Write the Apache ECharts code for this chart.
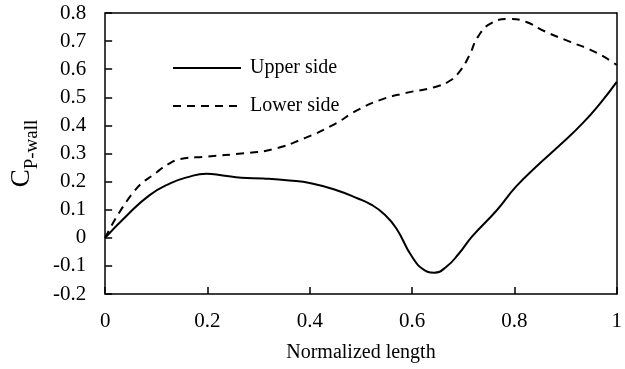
<!DOCTYPE html>
<html>
<head>
<meta charset="utf-8">
<script src="https://cdn.jsdelivr.net/npm/echarts@6/dist/echarts.min.js"></script>
<style>
  html, body { margin: 0; padding: 0; background: #fff; }
  #main { width: 625px; height: 369px; }
</style>
</head>
<body>
<div id="main"></div>
<script>
// 数据：归一化长度 / 壁面压力系数
var upperX = [0, 0.04, 0.087, 0.127, 0.16, 0.198, 0.23, 0.266, 0.309, 0.36, 0.402, 0.451, 0.494, 0.52, 0.545, 0.569, 0.599, 0.624, 0.643, 0.667, 0.692, 0.717, 0.766, 0.803, 0.846, 0.889, 0.933, 0.97, 1.0];
var upperY = [0, 0.075, 0.152, 0.194, 0.215, 0.228, 0.222, 0.214, 0.211, 0.204, 0.194, 0.17, 0.14, 0.118, 0.085, 0.034, -0.065, -0.115, -0.124, -0.103, -0.055, 0.004, 0.099, 0.182, 0.259, 0.33, 0.407, 0.484, 0.555];

var lowerX = [0, 0.056, 0.102, 0.127, 0.146, 0.198, 0.272, 0.328, 0.389, 0.445, 0.494, 0.537, 0.587, 0.643, 0.673, 0.692, 0.711, 0.729, 0.754, 0.791, 0.822, 0.859, 0.908, 0.957, 1.0];
var lowerY = [0, 0.164, 0.235, 0.266, 0.28, 0.289, 0.301, 0.315, 0.354, 0.401, 0.455, 0.49, 0.515, 0.536, 0.558, 0.59, 0.646, 0.716, 0.763, 0.779, 0.769, 0.735, 0.698, 0.662, 0.615];

var legendNames = ['Upper side', 'Lower side'];

function pairs(xs, ys) {
  return xs.map(function(x, i) { return [x, ys[i]]; });
}

var font = "'Liberation Serif', 'Times New Roman', serif";
var chart = echarts.init(document.getElementById('main'));

// 上边和右边的框线
var frameAxis = {
  type: 'value',
  min: 0,
  max: 1,
  axisLine: { show: true, onZero: false, lineStyle: { color: '#000', width: 1.5 } },
  axisTick: { show: false },
  axisLabel: { show: false },
  splitLine: { show: false }
};

chart.setOption({
  animation: false,
  grid: {
    left: 83,
    right: 2,
    top: 13,
    bottom: 75
  },
  legend: {
    orient: 'vertical',
    left: 167,
    top: 53,
    itemWidth: 68,
    itemHeight: 14,
    itemGap: 18,
    data: legendNames,
    // 只画线，不画圆点
    itemStyle: { color: 'transparent', borderColor: 'transparent', borderWidth: 0 },
    textStyle: {
      fontFamily: font,
      fontSize: 20,
      color: '#000',
      padding: [0, 0, 0, 4]
    }
  },
  xAxis: [{
    type: 'value',
    min: 0,
    max: 1,
    interval: 0.2,
    name: 'Normalized length',
    nameLocation: 'middle',
    nameGap: 49,
    nameTextStyle: { fontFamily: font, fontSize: 20, color: '#000' },
    axisLine: { show: true, onZero: false, lineStyle: { color: '#000', width: 1.5 } },
    axisTick: { show: true, inside: true, length: 7, lineStyle: { color: '#000', width: 1.5 } },
    axisLabel: { fontFamily: font, fontSize: 21, color: '#000', margin: 17 },
    splitLine: { show: false }
  }, Object.assign({ position: 'top' }, frameAxis)],
  yAxis: [{
    type: 'value',
    min: -0.2,
    max: 0.8,
    interval: 0.1,
    name: '{c|C}{s|P-wall}',
    nameLocation: 'middle',
    nameGap: 46,
    nameTextStyle: {
      rich: {
        c: { fontFamily: font, fontSize: 27, color: '#000', verticalAlign: 'top' },
        s: { fontFamily: font, fontSize: 19, color: '#000', verticalAlign: 'bottom', lineHeight: 34 }
      }
    },
    axisLine: { show: true, onZero: false, lineStyle: { color: '#000', width: 1.5 } },
    axisTick: { show: true, inside: true, length: 7, lineStyle: { color: '#000', width: 1.5 } },
    axisLabel: { fontFamily: font, fontSize: 21, color: '#000', margin: 19 },
    splitLine: { show: false }
  }, Object.assign({ position: 'right' }, frameAxis)],
  series: [
    {
      name: legendNames[0],
      type: 'line',
      data: pairs(upperX, upperY),
      smooth: 0.5,
      symbol: 'none',
      lineStyle: { color: '#000', width: 2, type: 'solid' },
      itemStyle: { color: '#000' }
    },
    {
      name: legendNames[1],
      type: 'line',
      data: pairs(lowerX, lowerY),
      smooth: 0.5,
      symbol: 'none',
      lineStyle: { color: '#000', width: 2, type: [8, 6] },
      itemStyle: { color: '#000' }
    }
  ]
});
</script>
</body>
</html>
